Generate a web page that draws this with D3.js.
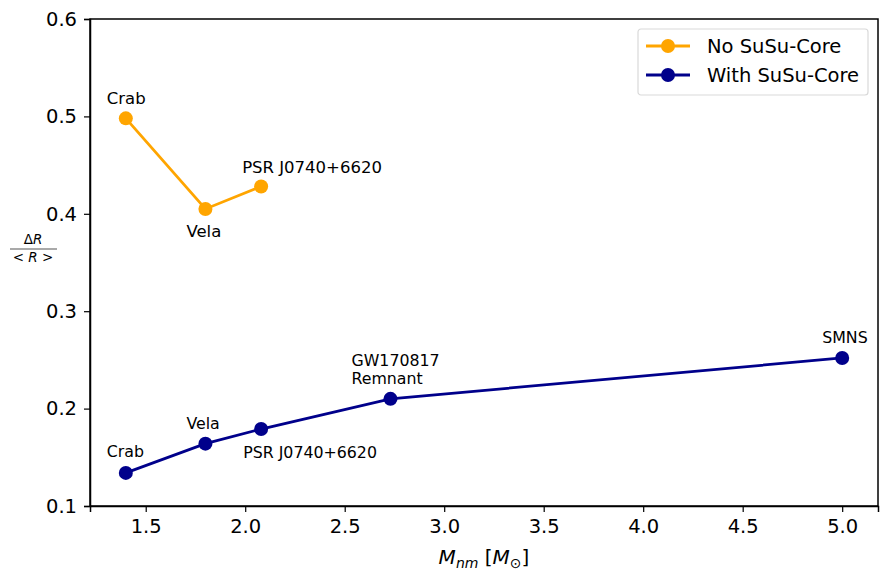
<!DOCTYPE html>
<html>
<head>
<meta charset="utf-8">
<script src="https://cdn.jsdelivr.net/npm/d3@7"></script>
<style>
  body { margin: 0; background: white; }
  text { font-family: "DejaVu Sans", sans-serif; }
</style>
</head>
<body>
<div class="chart-area"></div>
<script>
// data
var names = ["Crab", "Vela", "PSR J0740+6620", "GW170817 Remnant", "SMNS"];
var massNo = [1.4, 1.8, 2.08];
var ratioNo = [0.498, 0.405, 0.428];
var massWith = [1.4, 1.8, 2.08, 2.73, 5.0];
var ratioWith = [0.134, 0.164, 0.179, 0.210, 0.252];
var xTicks = [1.5, 2.0, 2.5, 3.0, 3.5, 4.0, 4.5, 5.0];
var yTicks = [0.1, 0.2, 0.3, 0.4, 0.5, 0.6];

var margin = {left: 90, right: 2, top: 19, bottom: 67};
var W = 880, H = 573;

var svg = d3.select(".chart-area").append("svg")
    .attr("width", W)
    .attr("height", H);

var x = d3.scaleLinear().domain([1.22, 5.18]).range([margin.left, W - margin.right]);
var y = d3.scaleLinear().domain([0.1, 0.6]).range([H - margin.bottom, margin.top]);

// axes
svg.append("g")
    .attr("transform", "translate(0," + (H - margin.bottom) + ")")
    .call(d3.axisBottom(x).tickValues(xTicks).tickFormat(d3.format(".1f")).tickSize(6).tickPadding(7))
    .call(function(g) { g.selectAll("text").attr("font-size", 19.5).attr("font-family", "DejaVu Sans").attr("fill", "#000"); });

svg.append("g")
    .attr("transform", "translate(" + margin.left + ",0)")
    .call(d3.axisLeft(y).tickValues(yTicks).tickFormat(d3.format(".1f")).tickSize(6).tickPadding(7))
    .call(function(g) { g.selectAll("text").attr("font-size", 19.5).attr("font-family", "DejaVu Sans").attr("fill", "#000"); });

svg.selectAll(".domain").attr("stroke", "#000").attr("stroke-width", 1.5);
svg.selectAll(".tick line").attr("stroke", "#000").attr("stroke-width", 1.2);

// frame (top and right)
svg.append("rect")
    .attr("x", margin.left).attr("y", margin.top)
    .attr("width", W - margin.right - margin.left)
    .attr("height", H - margin.bottom - margin.top)
    .attr("fill", "none").attr("stroke", "#000").attr("stroke-width", 1.5);

var line = d3.line()
    .x(function(d) { return x(d[0]); })
    .y(function(d) { return y(d[1]); });

function drawSeries(mass, ratio, color) {
    var pts = mass.map(function(m, i) { return [m, ratio[i]]; });
    svg.append("path").datum(pts)
        .attr("d", line)
        .attr("fill", "none")
        .attr("stroke", color)
        .attr("stroke-width", 2.8);
    svg.selectAll(null).data(pts).enter().append("circle")
        .attr("cx", function(d) { return x(d[0]); })
        .attr("cy", function(d) { return y(d[1]); })
        .attr("r", 7)
        .attr("fill", color);
    return pts;
}

var orange = "#FFA500", navy = "#00008B";
var ptsNo = drawSeries(massNo, ratioNo, orange);
var ptsWith = drawSeries(massWith, ratioWith, navy);

// annotations - no core (DejaVu)
var offNo = [[-19, -14], [-19, 28], [-19, -14]];
svg.selectAll(null).data(ptsNo).enter().append("text")
    .attr("x", function(d, i) { return x(d[0]) + offNo[i][0]; })
    .attr("y", function(d, i) { return y(d[1]) + offNo[i][1]; })
    .attr("font-size", 16.5)
    .attr("fill", "#000")
    .text(function(d, i) { return names[i]; });

// annotations - with core (Arial-like)
var offWith = [[-19, -16], [-19, -15], [-18, 29], [-39, -33], [-20, -15]];
svg.selectAll(null).data(ptsWith).enter().append("text")
    .attr("x", function(d, i) { return x(d[0]) + offWith[i][0]; })
    .attr("y", function(d, i) { return y(d[1]) + offWith[i][1]; })
    .attr("font-size", 15.8)
    .attr("font-family", "Liberation Sans")
    .attr("fill", "#000")
    .each(function(d, i) {
        var t = d3.select(this);
        if (i === 3) {
            var parts = names[i].split(" ");
            t.append("tspan").attr("x", x(d[0]) + offWith[i][0]).text(parts[0]);
            t.append("tspan").attr("x", x(d[0]) + offWith[i][0]).attr("dy", 18).text(parts[1]);
        } else {
            t.text(names[i]);
        }
    });

// y label as fraction
var yl = svg.append("g").attr("transform", "translate(33,249)");
yl.append("text").attr("x", 0).attr("y", -5).attr("text-anchor", "middle").attr("font-size", 13.5)
    .html('Δ<tspan font-style="italic">R</tspan>');
yl.append("line").attr("x1", -23).attr("x2", 24).attr("y1", 0).attr("y2", 0).attr("stroke", "#555").attr("stroke-width", 1.2);
yl.append("text").attr("x", 0).attr("y", 13).attr("text-anchor", "middle").attr("font-size", 13.5)
    .html('&lt; <tspan font-style="italic">R</tspan> &gt;');

// x label
var xl = svg.append("text")
    .attr("x", x(3.2))
    .attr("y", 564)
    .attr("text-anchor", "middle")
    .attr("font-size", 20);
xl.append("tspan").attr("font-style", "italic").text("M");
xl.append("tspan").attr("font-style", "italic").attr("font-size", 14).attr("dy", 4).text("nm");
xl.append("tspan").attr("dy", -4).text(" [");
xl.append("tspan").attr("font-style", "italic").text("M");
xl.append("tspan").attr("font-size", 14).attr("dy", 4).text("⊙");
xl.append("tspan").attr("dy", -4).text("]");

// legend
var lg = svg.append("g").attr("transform", "translate(638,29)");
lg.append("rect").attr("width", 230).attr("height", 66).attr("rx", 3)
    .attr("fill", "white").attr("stroke", "#d9d9d9").attr("stroke-width", 1.2);
var items = [["No SuSu-Core", orange], ["With SuSu-Core", navy]];
items.forEach(function(it, i) {
    var yy = 17 + i * 29;
    lg.append("line").attr("x1", 8).attr("x2", 52).attr("y1", yy).attr("y2", yy)
        .attr("stroke", it[1]).attr("stroke-width", 2.8);
    lg.append("circle").attr("cx", 30).attr("cy", yy).attr("r", 7).attr("fill", it[1]);
    lg.append("text").attr("x", 69).attr("y", yy + 7).attr("font-size", 19.5)
        .attr("font-family", "Liberation Sans").text(it[0]);
});
</script>
</body>
</html>
